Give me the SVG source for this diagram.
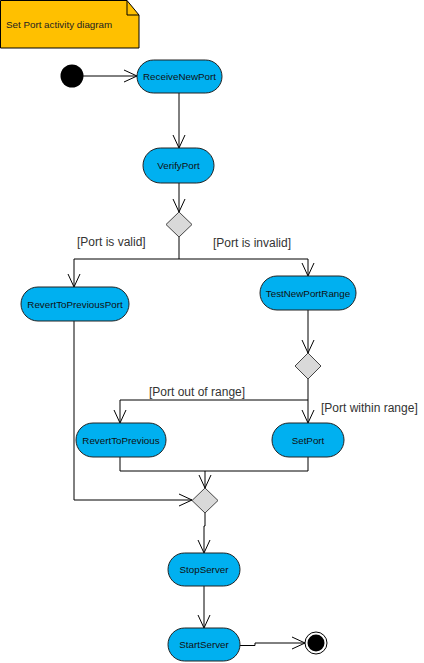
<svg xmlns="http://www.w3.org/2000/svg" width="424" height="663" viewBox="0 0 424 663">
<defs>
<style>
.act{fill:#00B0F0;stroke:#222;stroke-width:1}
.dec{fill:#D9D9D9;stroke:#444;stroke-width:1}
.t{font-family:"Liberation Sans",Arial,sans-serif;font-size:9.8px;fill:#111;text-anchor:middle;dominant-baseline:central}
.lbl{font-family:"Liberation Sans",Arial,sans-serif;font-size:12px;fill:#333}
.c{fill:none;stroke:#000;stroke-width:1;marker-end:url(#arr)}
.cn{fill:none;stroke:#000;stroke-width:1}
</style>
<marker id="arr" viewBox="0 0 14 14" refX="13" refY="7" markerWidth="14" markerHeight="14" markerUnits="userSpaceOnUse" orient="auto">
<path d="M0,1 L13,7 L0,13" fill="none" stroke="#000" stroke-width="1"/>
</marker>
</defs>
<rect width="424" height="663" fill="#fff"/>
<g id="note">
<path d="M0.5,0.5 H127 L139,15 V48 H0.5 Z" fill="#FFC000" stroke="#000"/>
<path d="M127,0.5 V15 H139" fill="none" stroke="#000"/>
<text x="6" y="28" font-family="Liberation Sans,Arial,sans-serif" font-size="9.8" fill="#222">Set Port activity diagram</text>
</g>
<g id="connectors">
<path class="c" d="M83,76 H137"/>
<path class="c" d="M179,93 V148"/>
<path class="c" d="M179,183 V212"/>
<path class="cn" d="M179,237 V259"/>
<path class="c" d="M179,259 H74 V287"/>
<path class="c" d="M179,259 H308 V276"/>
<path class="c" d="M308,310 V353"/>
<path class="c" d="M308,379 V423"/>
<path class="c" d="M308,400 H120 V423"/>
<path class="cn" d="M120,457 V471 H308 V457"/>
<path class="c" d="M205,471 V488"/>
<path class="c" d="M74,321 V500 H192"/>
<path class="c" d="M205,513 V526 H204 V553"/>
<path class="c" d="M204,586 V628"/>
<path class="c" d="M240,645.5 H255 V643 H305"/>
</g>
<g id="labels">
<text class="lbl" x="77" y="246">[Port is valid]</text>
<text class="lbl" x="213" y="247">[Port is invalid]</text>
<text class="lbl" x="149" y="396">[Port out of range]</text>
<text class="lbl" x="321" y="412">[Port within range]</text>
</g>
<g id="start"><circle cx="72" cy="76" r="11.5" fill="#000"/></g>
<g id="ReceiveNewPort"><rect class="act" x="137" y="60" width="85" height="33" rx="16.5"/><text class="t" x="179.5" y="76.5">ReceiveNewPort</text></g>
<g id="VerifyPort"><rect class="act" x="143" y="148" width="71" height="35" rx="17.5"/><text class="t" x="178.5" y="165.5">VerifyPort</text></g>
<g id="decision1"><polygon class="dec" points="179,212 192,224.5 179,237 166,224.5"/></g>
<g id="RevertToPreviousPort"><rect class="act" x="21" y="287" width="108" height="34" rx="17"/><text class="t" x="75" y="304">RevertToPreviousPort</text></g>
<g id="TestNewPortRange"><rect class="act" x="260" y="276" width="96" height="34" rx="17"/><text class="t" x="308" y="293">TestNewPortRange</text></g>
<g id="decision2"><polygon class="dec" points="308,353 321,366 308,379 295,366"/></g>
<g id="RevertToPrevious"><rect class="act" x="76" y="423" width="90" height="34" rx="17"/><text class="t" x="121" y="440">RevertToPrevious</text></g>
<g id="SetPort"><rect class="act" x="272" y="423" width="72" height="34" rx="17"/><text class="t" x="308" y="440">SetPort</text></g>
<g id="merge"><polygon class="dec" points="205,488 218,500.5 205,513 192,500.5"/></g>
<g id="StopServer"><rect class="act" x="168" y="553" width="72" height="33" rx="16.5"/><text class="t" x="204" y="569.5">StopServer</text></g>
<g id="StartServer"><rect class="act" x="168" y="628" width="72" height="33" rx="16.5"/><text class="t" x="204" y="644.5">StartServer</text></g>
<g id="end"><circle cx="316" cy="643" r="11" fill="#fff" stroke="#000"/><circle cx="316" cy="643" r="8.5" fill="#000"/></g>
</svg>
